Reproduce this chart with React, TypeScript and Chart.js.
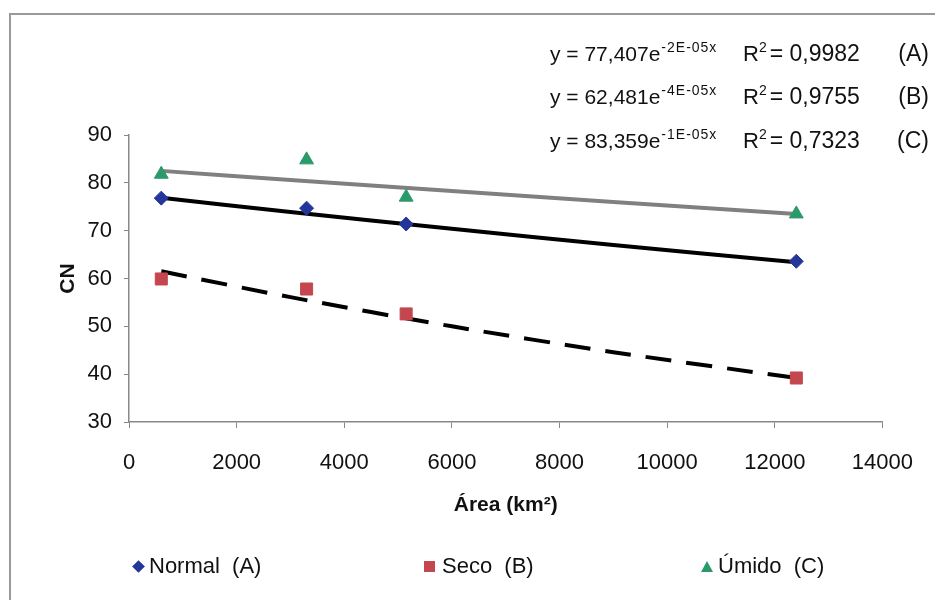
import React, { useEffect, useRef } from "react";
import { Chart, registerables } from "chart.js";

Chart.register(...registerables);

// ---- data ----
const areaKm2 = [600, 3300, 5150, 12400];
const cnNormal = [76.8, 74.7, 71.4, 63.6];
const cnSeco = [59.9, 57.8, 52.6, 39.2];
const cnUmido = [81.8, 84.8, 77.0, 73.5];

// trend lines as drawn in the reference
const trendX = [600, 3000, 6000, 9000, 12400];
const trendNormal = [76.9, 73.9, 70.4, 67.0, 63.4];
const trendSeco = [61.5, 56.1, 50.0, 44.6, 39.2];
const trendUmido = [82.5, 80.6, 78.3, 76.0, 73.5];

const seriesNames = ["Normal  (A)", "Seco  (B)", "Úmido  (C)"];
const eqCoef = ["77,407", "62,481", "83,359"];
const eqExp = ["-2E-05x", "-4E-05x", "-1E-05x"];
const eqR2 = ["0,9982", "0,9755", "0,7323"];
const eqTag = ["(A)", "(B)", "(C)"];

const xMin = 0, xMax = 14000, xStep = 2000;
const yMin = 30, yMax = 90, yStep = 10;

const FONT = "'Liberation Sans', Arial, sans-serif";
const colNormal = "#24369a";
const colSeco = "#c4474f";
const colUmido = "#2b9a6a";

const toPts = (xs: number[], ys: number[]) => xs.map((x, i) => ({ x, y: ys[i] }));

const equationPlugin = {
  id: "equations",
  afterDraw(chart: any) {
    const ctx = chart.ctx;
    ctx.save();
    ctx.fillStyle = "#111";
    ctx.textBaseline = "middle";
    const rows = [55, 98, 142];
    rows.forEach((cy, i) => {
      let x = 550;
      ctx.letterSpacing = "0px";
      ctx.font = `21px ${FONT}`;
      ctx.textAlign = "left";
      const base = `y = ${eqCoef[i]}e`;
      ctx.fillText(base, x, cy);
      x += ctx.measureText(base).width + 1;
      ctx.font = `14px ${FONT}`;
      ctx.letterSpacing = "1px";
      ctx.fillText(eqExp[i], x, cy - 7);
      ctx.letterSpacing = "0px";
      ctx.font = `22px ${FONT}`;
      let rx = 743;
      ctx.fillText("R", rx, cy);
      rx += ctx.measureText("R").width;
      ctx.font = `14px ${FONT}`;
      ctx.fillText("2", rx, cy - 7);
      rx += ctx.measureText("2").width + 3;
      ctx.font = `23px ${FONT}`;
      ctx.fillText(`= ${eqR2[i]}`, rx, cy);
      ctx.textAlign = "right";
      ctx.fillText(eqTag[i], 929, cy);
    });
    ctx.restore();
  },
};

export default function App() {
  const ref = useRef<HTMLCanvasElement | null>(null);

  useEffect(() => {
    if (!ref.current) return;
    const chart = new Chart(ref.current, {
      type: "scatter",
      data: {
        datasets: [
          {
            label: seriesNames[0],
            data: toPts(areaKm2, cnNormal),
            pointStyle: "rectRot",
            pointRadius: 7,
            backgroundColor: colNormal,
            borderColor: colNormal,
            showLine: false,
          },
          {
            label: seriesNames[1],
            data: toPts(areaKm2, cnSeco),
            pointStyle: "rect",
            pointRadius: 8.5,
            backgroundColor: colSeco,
            borderColor: colSeco,
            showLine: false,
          },
          {
            label: seriesNames[2],
            data: toPts(areaKm2, cnUmido),
            pointStyle: "triangle",
            pointRadius: 8,
            backgroundColor: colUmido,
            borderColor: colUmido,
            showLine: false,
          },
          {
            label: "trend A",
            data: toPts(trendX, trendNormal),
            showLine: true,
            pointRadius: 0,
            borderColor: "#000",
            borderWidth: 4,
            tension: 0.3,
          },
          {
            label: "trend B",
            data: toPts(trendX, trendSeco),
            showLine: true,
            pointRadius: 0,
            borderColor: "#000",
            borderWidth: 4,
            borderDash: [26, 15],
            tension: 0.3,
          },
          {
            label: "trend C",
            data: toPts(trendX, trendUmido),
            showLine: true,
            pointRadius: 0,
            borderColor: "#808080",
            borderWidth: 4,
            tension: 0.3,
          },
        ],
      },
      options: {
        animation: false,
        responsive: false,
        events: [],
        layout: { padding: { top: 135, right: 48, bottom: 78, left: 0 } },
        plugins: { legend: { display: false }, tooltip: { enabled: false } },
        scales: {
          x: {
            type: "linear",
            min: xMin,
            max: xMax,
            afterFit: (s: any) => { s.height = 100; },
            ticks: {
              stepSize: xStep,
              color: "#111",
              font: { family: FONT, size: 22 },
              padding: 22,
              maxRotation: 0,
              callback: (v: any) => String(v),
            },
            grid: { drawOnChartArea: false, drawTicks: true, tickLength: 6, color: "#888" },
            border: { color: "#888", width: 1.5 },
            title: {
              display: true,
              text: "Área (km²)",
              color: "#111",
              font: { family: FONT, size: 21, weight: "bold" },
              padding: { top: 0, bottom: 4 },
            },
          },
          y: {
            min: yMin,
            max: yMax,
            afterFit: (s: any) => { s.width = 129; },
            ticks: {
              stepSize: yStep,
              color: "#111",
              font: { family: FONT, size: 22 },
              padding: 12,
              callback: (v: any) => String(v),
            },
            grid: { drawOnChartArea: false, drawTicks: true, tickLength: 5, color: "#888" },
            border: { color: "#888", width: 1.5 },
            title: {
              display: true,
              text: "CN",
              color: "#111",
              font: { family: FONT, size: 21, weight: "bold" },
              padding: { top: 56, bottom: 0 },
            },
          },
        },
      },
      plugins: [equationPlugin],
    });
    return () => chart.destroy();
  }, []);

  const legendItems = [
    { name: seriesNames[0], color: colNormal, shape: "diamond", left: 134 },
    { name: seriesNames[1], color: colSeco, shape: "square", left: 424 },
    { name: seriesNames[2], color: colUmido, shape: "triangle", left: 701 },
  ];

  const marker = (shape: string, color: string) => {
    if (shape === "diamond")
      return <span style={{ display: "inline-block", width: 9, height: 9, background: color, transform: "rotate(45deg)", marginRight: 6 }} />;
    if (shape === "square")
      return <span style={{ display: "inline-block", width: 11, height: 11, background: color, marginRight: 7 }} />;
    return (
      <span style={{ display: "inline-block", width: 0, height: 0, borderLeft: "6px solid transparent", borderRight: "6px solid transparent", borderBottom: `11px solid ${color}`, marginRight: 5 }} />
    );
  };

  return (
    <div style={{ position: "fixed", left: 0, top: 0, width: 935, height: 600, overflow: "hidden", background: "#fff" }}>
      <div style={{ position: "absolute", left: 9, top: 13, width: 1000, height: 700, border: "2px solid #9a9a9a" }} />
      <canvas ref={ref} width={935} height={600} style={{ position: "absolute", left: 0, top: 0, width: 935, height: 600 }} />
      {legendItems.map((it) => (
        <div
          key={it.name}
          style={{
            position: "absolute",
            left: it.left,
            top: 552,
            height: 28,
            display: "flex",
            alignItems: "center",
            fontFamily: FONT,
            fontSize: 22,
            color: "#111",
            whiteSpace: "pre",
          }}
        >
          {marker(it.shape, it.color)}
          <span>{it.name}</span>
        </div>
      ))}
    </div>
  );
}
